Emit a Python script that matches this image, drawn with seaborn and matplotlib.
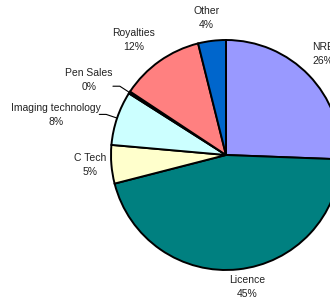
import numpy as np
import matplotlib
matplotlib.use("Agg")
import matplotlib.pyplot as plt
import seaborn as sns

# slices, clockwise from 12 o'clock
categories = ["NRE", "Licence", "C Tech", "Imaging technology", "Pen Sales", "Royalties", "Other"]
shares = [25.6, 45.4, 5.4, 7.6, 0.3, 11.8, 3.9]
colors = ["#9999FF", "#008080", "#FFFFCC", "#CCFFFF", "#660066", "#FF8080", "#0066CC"]

# label block centres (data units, pie radius = 1)
label_pos = [(0.845, 0.88), (0.18, -1.15), (-1.18, -0.087), (-1.48, 0.35),
             (-1.19, 0.65), (-0.80, 1.0), (-0.17, 1.19)]
with_leader = ["Imaging technology", "Pen Sales"]

sns.set_style("white")
plt.rcParams["font.family"] = ["Liberation Sans", "DejaVu Sans"]

W, H = 330, 298
fig = plt.figure(figsize=(W / 100, H / 100), dpi=100)
# pie centre at (226, 155) px from top-left, radius 115 px
cx, cy, r = 226, 155, 115
ax = fig.add_axes([(cx - r) / W, (H - cy - r) / H, 2 * r / W, 2 * r / H])

wedges, _ = ax.pie(shares, colors=colors, startangle=90, counterclock=False,
                   wedgeprops=dict(edgecolor="black", linewidth=1.4))
ax.set_xlim(-1, 1)
ax.set_ylim(-1, 1)
ax.set_aspect("equal")
ax.axis("off")

for w, name, v, (lx, ly) in zip(wedges, categories, shares, label_pos):
    ax.text(lx, ly, f"{name}\n{v:.0f}%", ha="center", va="center", fontsize=7.5,
            color="#222222", linespacing=1.45, clip_on=False)
    if name in with_leader:
        mid = np.deg2rad((w.theta1 + w.theta2) / 2)
        p0 = (np.cos(mid), np.sin(mid))
        p1 = (1.1 * np.cos(mid), 1.1 * np.sin(mid))
        p2 = (p1[0] - 0.06, p1[1])
        ax.plot([p0[0], p1[0], p2[0]], [p0[1], p1[1], p2[1]], color="black",
                lw=0.8, clip_on=False)

fig.savefig("out.png", dpi=100)
